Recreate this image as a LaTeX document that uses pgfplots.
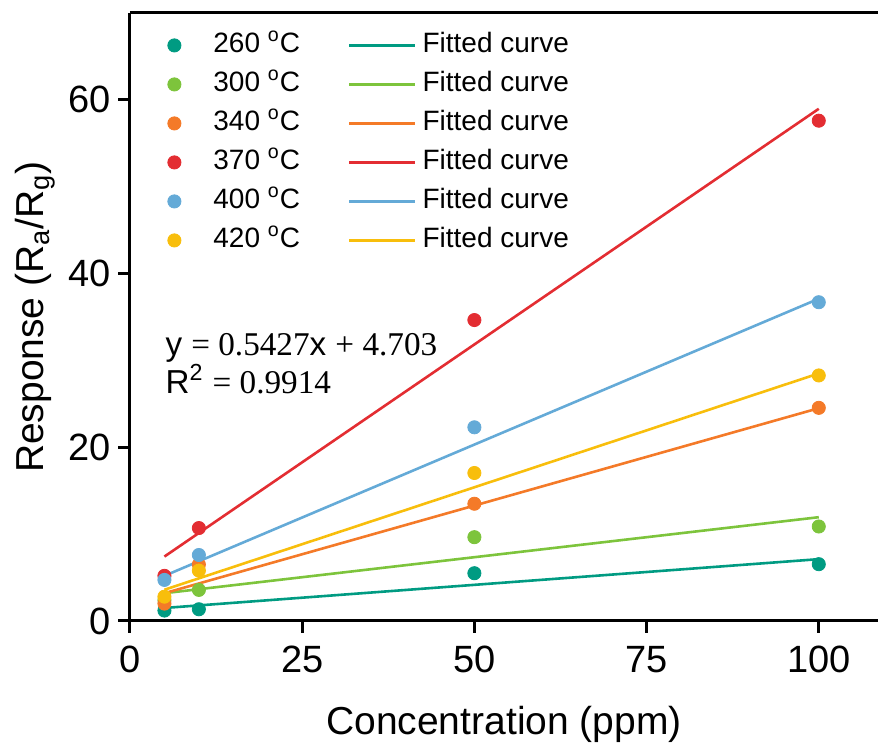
\documentclass[border=0pt]{standalone}
\usepackage{pgfplots}
\pgfplotsset{compat=1.18}
\usepackage{fontspec}
\setmainfont{Liberation Sans}
\newfontfamily\timesfont{Liberation Serif}
\definecolor{cA}{RGB}{0,155,130}
\definecolor{cB}{RGB}{125,196,60}
\definecolor{cC}{RGB}{244,122,40}
\definecolor{cD}{RGB}{227,45,50}
\definecolor{cE}{RGB}{100,170,215}
\definecolor{cF}{RGB}{248,190,12}
\pgfplotsset{
  pts/.style={only marks, mark=*, mark size=3.3pt, mark options={draw=#1, fill=#1}, color=#1,
    legend image code/.code={\path[draw=none,fill=none] (0pt,0pt) -- (33pt,0pt); \draw plot coordinates {(16.5pt,0pt)};}},
  fit/.style={no marks, line width=1.3pt, color=#1},
}
\begin{document}
\begin{tikzpicture}
\begin{axis}[
  name=ax,
  width=374pt, height=304pt, scale only axis,
  xmin=0, xmax=108.6, ymin=0, ymax=70,
  xtick={0,25,50,75,100}, ytick={0,20,40,60},
  axis x line=box, axis y line=left,
  axis line style={-, line width=1.5pt, black},
  xtick pos=lower, ytick pos=left,
  tick align=outside, major tick length=6pt,
  tick style={line width=1.5pt, black},
  /pgf/number format/assume math mode=true,
  ticklabel style={font=\fontsize{19}{19}\selectfont},
  xticklabel style={yshift=-3pt},
  xlabel={Concentration (ppm)},
  ylabel={Response (R\textsubscript{a}/R\textsubscript{g})},
  label style={font=\fontsize{19.5}{19.5}\selectfont},
  xlabel style={yshift=-10pt},
  legend columns=2,
  legend cell align=left,
  legend style={draw=none, fill=none, at={(0.0147,0.972)}, anchor=north west,
    inner sep=0pt, font=\fontsize{14}{14}\selectfont, row sep=4.5pt,
    nodes={inner xsep=3pt, inner ysep=1pt, text height=10pt, text depth=3pt},
    /tikz/every even column/.append style={column sep=21pt}},
  legend image code/.code={\draw[mark repeat=2,mark phase=2] plot coordinates {(0pt,0pt) (16.5pt,0pt) (33pt,0pt)};},
]
\addplot[pts=cA] coordinates {(5,1.2) (10,1.35) (50,5.5) (100,6.54)};
\addlegendentry{260 \textsuperscript{o}C}
\addplot[fit=cA] coordinates {(5,1.5) (100,7.12)};
\addlegendentry{Fitted curve}
\addplot[pts=cB] coordinates {(5,2.4) (10,3.58) (50,9.65) (100,10.88)};
\addlegendentry{300 \textsuperscript{o}C}
\addplot[fit=cB] coordinates {(5,3.2) (100,11.95)};
\addlegendentry{Fitted curve}
\addplot[pts=cC] coordinates {(5,2.0) (10,6.5) (50,13.5) (100,24.54)};
\addlegendentry{340 \textsuperscript{o}C}
\addplot[fit=cC] coordinates {(5,3.2) (100,24.5)};
\addlegendentry{Fitted curve}
\addplot[pts=cD] coordinates {(5,5.2) (10,10.7) (50,34.65) (100,57.6)};
\addlegendentry{370 \textsuperscript{o}C}
\addplot[fit=cD] coordinates {(5,7.42) (100,58.97)};
\addlegendentry{Fitted curve}
\addplot[pts=cE] coordinates {(5,4.73) (10,7.6) (50,22.3) (100,36.7)};
\addlegendentry{400 \textsuperscript{o}C}
\addplot[fit=cE] coordinates {(5,5.2) (100,37.1)};
\addlegendentry{Fitted curve}
\addplot[pts=cF] coordinates {(5,2.8) (10,5.8) (50,17.04) (100,28.27)};
\addlegendentry{420 \textsuperscript{o}C}
\addplot[fit=cF] coordinates {(5,3.6) (100,28.5)};
\addlegendentry{Fitted curve}
\node[anchor=base west, inner sep=0pt, font=\fontsize{16.6}{16.6}\selectfont] at (axis cs:5.1,30.6) {y {\timesfont = 0.5427}x {\timesfont + 4.703}};
\node[anchor=base west, inner sep=0pt, font=\fontsize{16.6}{16.6}\selectfont] at (axis cs:5.1,26.2) {R\textsuperscript{2} {\timesfont = 0.9914}};
\end{axis}
\pgfresetboundingbox
\path[use as bounding box] (ax.south west) ++(-65pt,-63.5pt) rectangle ([yshift=6.5pt]ax.north east);
\end{tikzpicture}
\end{document}
